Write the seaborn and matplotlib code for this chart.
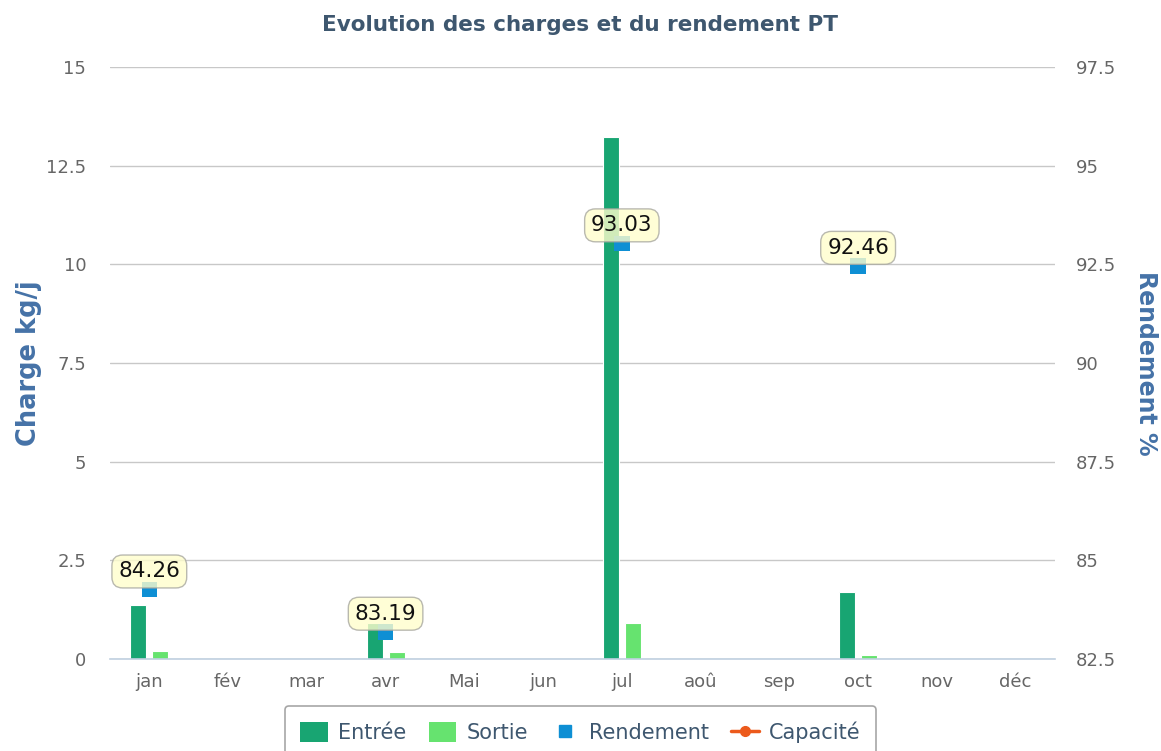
import numpy as np
import pandas as pd
import matplotlib.pyplot as plt
import seaborn as sns
from matplotlib.lines import Line2D
from matplotlib.patches import Patch
from matplotlib.ticker import FuncFormatter, FixedLocator

# ----------------------------------------------------------------------
# DATA
# ----------------------------------------------------------------------
months = ["jan", "fév", "mar", "avr", "Mai", "jun", "jul", "aoû", "sep", "oct", "nov", "déc"]
entree = [1.38, 0, 0, 0.9, 0, 0, 13.22, 0, 0, 1.7, 0, 0]
sortie = [0.2, 0, 0, 0.18, 0, 0, 0.92, 0, 0, 0.1, 0, 0]
rendement = [84.26, np.nan, np.nan, 83.19, np.nan, np.nan, 93.03, np.nan, np.nan, 92.46, np.nan, np.nan]
series_names = ["Entrée", "Sortie"]
left_ticks = [0, 2.5, 5, 7.5, 10, 12.5, 15]
right_ticks = [82.5, 85, 87.5, 90, 92.5, 95, 97.5]

col_entree = "#18a572"
col_sortie = "#66e36f"
col_rend = "#0e8fd4"
col_cap = "#ec5a1c"

df = pd.DataFrame({
    "Mois": months * 2,
    "Serie": [series_names[0]] * 12 + [series_names[1]] * 12,
    "Charge": entree + sortie,
})

sns.set_theme(style="white")
plt.rcParams["font.family"] = ["DejaVu Sans"]

fig = plt.figure(figsize=(11.61, 7.51), dpi=100)
ax = fig.add_axes([0.0947, 0.1225, 0.8140, 0.7883])

sns.barplot(data=df, x="Mois", y="Charge", hue="Serie", order=months,
            hue_order=series_names, palette=[col_entree, col_sortie],
            width=0.56, gap=0.28, saturation=1, edgecolor="white", linewidth=0.8,
            legend=False, ax=ax, zorder=2)

ax.set_ylim(left_ticks[0], left_ticks[-1])
ax.set_xlim(-0.5, len(months) - 0.5)
ax.yaxis.set_major_locator(FixedLocator(left_ticks))
ax.yaxis.set_major_formatter(FuncFormatter(lambda v, p: f"{v:g}"))
ax.grid(axis="y", color="#c8c8c8", linewidth=1, zorder=0)
ax.set_axisbelow(True)
for s in ["top", "left", "right"]:
    ax.spines[s].set_visible(False)
ax.spines["bottom"].set_color("#c0d0e0")
ax.spines["bottom"].set_linewidth(1.2)
ax.tick_params(axis="y", length=0, pad=17, labelsize=13, labelcolor="#666666")
ax.tick_params(axis="x", which="major", length=0, pad=10, labelsize=13, labelcolor="#666666")
ax.set_xticks(np.arange(-0.5, len(months) + 0.5, 1), minor=True)
ax.tick_params(axis="x", which="minor", length=9, width=1.2, color="#c0d0e0", direction="out")
ax.set_xlabel("")
ax.set_ylabel("Charge kg/j", fontsize=18.5, fontweight="bold", color="#4572a7", labelpad=3)

# --- Rendement on the secondary axis ---
ax2 = ax.twinx()
sns.scatterplot(x=np.arange(len(months)), y=rendement, ax=ax2, marker="s", s=125,
                color=col_rend, edgecolor="none", zorder=3, legend=False)
ax2.set_ylim(right_ticks[0], right_ticks[-1])
ax2.yaxis.set_major_locator(FixedLocator(right_ticks))
ax2.yaxis.set_major_formatter(FuncFormatter(lambda v, p: f"{v:g}"))
for s in ax2.spines.values():
    s.set_visible(False)
ax2.tick_params(axis="y", length=0, pad=15, labelsize=13, labelcolor="#666666")
ax2.set_ylabel("Rendement %", fontsize=17, fontweight="bold", color="#4572a7",
               rotation=270, labelpad=30)
ax2.grid(False)

for i, v in enumerate(rendement):
    if np.isnan(v):
        continue
    ax2.annotate(f"{v:.2f}", xy=(i, v), xytext=(0, 13), textcoords="offset points",
                 ha="center", va="center", fontsize=15.5, color="#111111", zorder=5,
                 bbox=dict(boxstyle="round,pad=0.3,rounding_size=0.5", fc="#fffecc",
                           ec="#a8a8a0", lw=1, alpha=0.8))

fig.suptitle("Evolution des charges et du rendement PT", x=0.5, y=0.98,
             fontsize=15.5, fontweight="bold", color="#3e576f")

handles = [
    Patch(facecolor=col_entree, edgecolor="none", label="Entrée"),
    Patch(facecolor=col_sortie, edgecolor="none", label="Sortie"),
    Line2D([], [], linestyle="none", marker="s", markersize=8, color=col_rend, label="Rendement"),
    Line2D([], [], color=col_cap, linewidth=2.5, marker="o", markersize=7, label="Capacité"),
]
leg = fig.legend(handles=handles, loc="upper center", bbox_to_anchor=(0.5, 0.06), ncol=4,
                 fontsize=15, frameon=True, fancybox=True, handlelength=1.3, handleheight=1.05,
                 columnspacing=1.1, handletextpad=0.5, borderpad=0.75, borderaxespad=0)
leg.get_frame().set_edgecolor("#909090")
leg.get_frame().set_linewidth(1.2)
for t in leg.get_texts():
    t.set_color("#3e576f")

fig.savefig("out.png", dpi=100)
